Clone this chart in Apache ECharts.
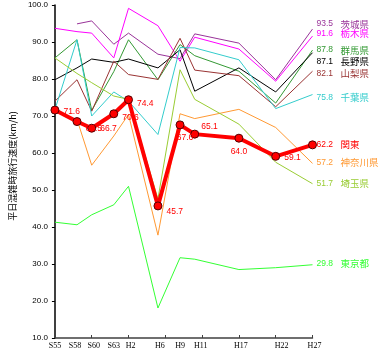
<!DOCTYPE html>
<html><head><meta charset="utf-8">
<script src="https://cdn.jsdelivr.net/npm/echarts@6/dist/echarts.min.js"></script>
<style>html,body{margin:0;padding:0;background:#fff}#c{width:382px;height:356px}</style>
</head><body><div id="c"></div>
<script>
// ---- data ----
const years   = [1980, 1983, 1985, 1988, 1990, 1994, 1997, 1999, 2005, 2010, 2015];
const xLabels = ['S55','S58','S60','S63','H2','H6','H9','H11','H17','H22','H27'];
const yTicks  = [10, 20, 30, 40, 50, 60, 70, 80, 90, 100];

const ibaraki   = [null, 94.9, 95.7, 89.4, 92.4, 86.7, 85.5, 92.2, 89.7, 79.8, 93.5];
const tochigi   = [93.7, 92.8, 92.4, 85.7, 99.1, 94.4, 84.8, 91.3, 88.1, 79.4, 91.6];
const gunma     = [85.7, 90.6, 71.5, 82.0, 90.6, 79.8, 89.3, 86.3, 82.1, 73.5, 87.8];
const nagano    = [79.8, 83.0, 85.4, 84.5, 85.4, 83.0, 87.9, 76.7, 83.0, 76.5, 87.1];
const yamanashi = [74.0, 79.8, 71.3, 84.8, 81.2, 79.9, 91.0, 82.4, 80.9, 72.5, 82.1];
const chiba     = [71.7, 90.6, 70.0, 76.5, 74.0, 65.0, 88.5, 88.4, 85.2, 72.0, 75.8];
const kanto     = [71.6, 68.5, 66.7, 70.6, 74.4, 45.7, 67.6, 65.1, 64.0, 59.1, 62.2];
const kanagawa  = [null, 69.1, 56.7, 64.6, 70.4, 37.8, 70.6, 69.3, 71.8, 66.9, 57.2];
const saitama   = [85.7, 81.5, 79.0, 75.4, 74.5, 47.6, 82.5, 74.5, 67.8, 57.5, 51.7];
const tokyo     = [41.3, 40.6, 43.3, 46.0, 51.0, 18.1, 31.7, 31.3, 28.5, 29.0, 29.8];

const seriesNames  = ['茨城県','栃木県','群馬県','長野県','山梨県','千葉県','神奈川県','埼玉県','東京都','関東'];
const seriesValues = [ibaraki, tochigi, gunma, nagano, yamanashi, chiba, kanagawa, saitama, tokyo, kanto];

// ---- styles ----
const colors     = ['#993399','#ff00ff','#339933','#000000','#993333','#33cccc','#ff9933','#99cc33','#33ff33','#ff0000'];
const endOffsets = [-5, -2.5, 0, 9, 2.5, 3, -1, 0, -1, 0];
const xLabelShift = [0, -2, 2, 0, 2, 2, 0, 6, 2, 6, 2];
// per-point label placement for the 関東 line
const kantoLabelPos = [
  {position:'right', offset:[0,2]},
  {position:'right', offset:[0,7]},
  {position:'right', offset:[0,0]},
  {position:'right', offset:[0,4]},
  {position:'right', offset:[0,4]},
  {position:'right', offset:[0,6]},
  {position:'bottom', offset:[5,0]},
  {position:'right', offset:[-2,-7]},
  {position:'bottom', offset:[0,0]},
  {position:'right', offset:[0,1]},
  {show:false}
];

const series = seriesNames.map((name, si) => {
  const vals = seriesValues[si];
  const isKanto = name === '関東';
  const data = years.map((y, i) => {
    if (vals[i] === null) return null;
    const d = {value: [y, vals[i]]};
    if (isKanto) d.label = Object.assign({show: true}, kantoLabelPos[i]);
    return d;
  }).filter(d => d !== null);
  return {
    name, type: 'line', data,
    z: isKanto ? 10 : 2,
    symbol: isKanto ? 'circle' : 'none',
    symbolSize: 8,
    showSymbol: isKanto,
    lineStyle: {color: colors[si], width: isKanto ? 4 : 1},
    itemStyle: {color: colors[si], borderColor: '#550000', borderWidth: 1},
    label: {show: false, color: colors[si], fontSize: 8.5, fontFamily: 'Liberation Sans', distance: 4,
            formatter: p => p.value[1].toFixed(1)},
    emphasis: {disabled: true},
    animation: false,
    endLabel: {
      show: true, distance: 4, offset: [0, endOffsets[si]],
      formatter: p => '{v|' + p.value[1].toFixed(1) + '}{n|' + name + '}',
      rich: {
        v: {color: colors[si], fontSize: 8.5, fontFamily: 'Liberation Sans', width: 24},
        n: {color: colors[si], fontSize: 9.5, fontFamily: 'Noto Sans CJK JP'}
      }
    }
  };
});

const richX = {};
xLabelShift.forEach((s, i) => {
  richX['l' + i] = {fontSize: 8, color: '#000', fontFamily: 'Liberation Sans Narrow',
                    padding: s >= 0 ? [0, 0, 0, 2 * s] : [0, -2 * s, 0, 0]};
});

const chart = echarts.init(document.getElementById('c'), null, {renderer: 'canvas'});
chart.setOption({
  animation: false,
  backgroundColor: '#ffffff',
  grid: {left: 43, right: 69.5, top: 5, bottom: 18, containLabel: false},
  xAxis: {
    type: 'value', min: years[0], max: years[years.length - 1], interval: 5,
    axisLine: {lineStyle: {color: '#404040', width: 1.5}},
    axisTick: {show: true, inside: true, length: 3, lineStyle: {color: '#404040'}},
    splitLine: {show: false},
    axisLabel: {
      customValues: years,
      formatter: v => { const i = years.indexOf(v); return i >= 0 ? '{l' + i + '|' + xLabels[i] + '}' : ''; },
      rich: richX,
      fontSize: 8, color: '#000', margin: 4, fontFamily: 'Liberation Sans Narrow',
      showMinLabel: true, showMaxLabel: true, hideOverlap: false
    }
  },
  yAxis: {
    type: 'value', min: yTicks[0], max: yTicks[yTicks.length - 1], interval: 10,
    name: '平日混雑時旅行速度(km/h)', nameLocation: 'middle', nameGap: 35,
    nameTextStyle: {fontSize: 9, color: '#000', fontFamily: 'Noto Sans CJK JP', padding: [0, 0, 0, 11]},
    axisLine: {show: true, lineStyle: {color: '#000', width: 1.5}},
    axisTick: {show: true, inside: false, length: 3, lineStyle: {color: '#000'}},
    splitLine: {show: false},
    axisLabel: {formatter: v => v.toFixed(1), fontSize: 8, color: '#000', margin: 7, fontFamily: 'Liberation Sans'}
  },
  series
});
</script></body></html>
